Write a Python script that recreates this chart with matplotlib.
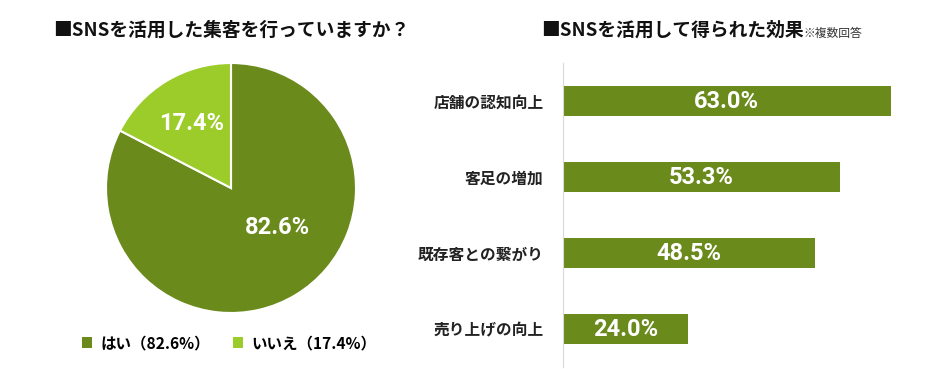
import numpy as np
from matplotlib import pyplot as plt
from matplotlib.patches import Patch

plt.rcParams['font.family'] = ['Noto Sans CJK JP', 'DejaVu Sans']

# 左: 円グラフ
pie_labels = ["はい", "いいえ"]
pie_values = [82.6, 17.4]
pie_colors = ["#6b8a1c", "#9ccc2a"]

# 右: 横棒グラフ
bar_labels = ["店舗の認知向上", "客足の増加", "既存客との繋がり", "売り上げの向上"]
bar_values = [63.0, 53.3, 48.5, 24.0]
bar_color = "#6b8a1c"

W, H = 936, 369
fig = plt.figure(figsize=(W / 100, H / 100), dpi=100)

def px_axes(x0, y0, x1, y1):
    # ピクセル座標(左上基準)でaxesを作る
    return fig.add_axes([x0 / W, 1 - y1 / H, (x1 - x0) / W, (y1 - y0) / H])

num_font = dict(family=["Roboto", "DejaVu Sans"], size=17, weight="bold")

# タイトル
fig.text(53 / W, 1 - 30 / H, "■SNSを活用した集客を行っていますか？",
         fontsize=13.5, fontweight="bold", va="center", color="#111111")
fig.text(541 / W, 1 - 30 / H, "■SNSを活用して得られた効果",
         fontsize=13.5, fontweight="bold", va="center", color="#111111")
fig.text(803 / W, 1 - 33 / H, "※複数回答", fontsize=8.5, va="center", color="#333333")

# 円グラフ
ax1 = px_axes(106, 63, 356, 313)
wedges, texts, autotexts = ax1.pie(
    pie_values, colors=pie_colors, startangle=90, counterclock=False,
    autopct="%.1f%%", pctdistance=0.6,
    wedgeprops=dict(edgecolor="white", linewidth=1.5),
    textprops=dict(color="white"))
for t in autotexts:
    t.set_fontfamily(num_font["family"])
    t.set_fontsize(num_font["size"])
    t.set_fontweight("bold")
ang = np.deg2rad(-40)
autotexts[0].set_position((0.49 * np.cos(ang), 0.49 * np.sin(ang)))
ax1.set_xlim(-1, 1)
ax1.set_ylim(-1, 1)
ax1.set_aspect("auto")

handles = [Patch(facecolor=c, edgecolor="none") for c in pie_colors]
leg_text = [f"{l}（{v}%）" for l, v in zip(pie_labels, pie_values)]
fig.legend(handles, leg_text, loc="center", bbox_to_anchor=(229 / W, 1 - 343 / H),
           ncol=2, frameon=False, handlelength=0.65, handleheight=0.65,
           handletextpad=0.5, columnspacing=1.5,
           prop=dict(size=11.2, weight="bold"))

# 横棒グラフ
ax2 = px_axes(563, 63, 563 + 70 * 5.2, 367)
y = np.arange(len(bar_labels))
ax2.barh(y, bar_values, height=0.4, color=bar_color)
for yi, v in zip(y, bar_values):
    ax2.text(v / 2, yi, f"{v:.1f}%", ha="center", va="center",
             color="white", **num_font)
ax2.set_xlim(0, 70)
ax2.set_ylim(3.5, -0.5)
ax2.set_yticks(y)
ax2.set_yticklabels(bar_labels, fontsize=11.3, fontweight="bold", color="#222222")
ax2.tick_params(axis="y", length=0, pad=14)
ax2.set_xticks([])
for s in ["top", "right", "bottom"]:
    ax2.spines[s].set_visible(False)
ax2.spines["left"].set_color("#d9d9d9")

fig.savefig("out.png", dpi=100)
